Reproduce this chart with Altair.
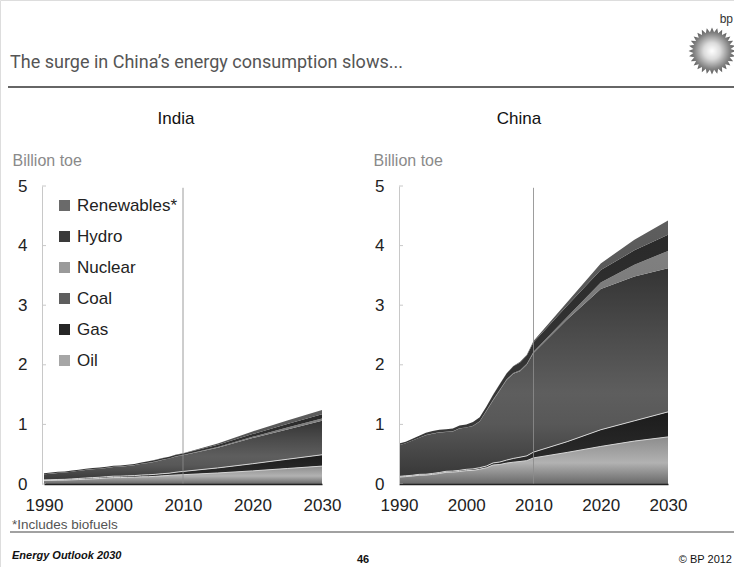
import math

import altair as alt
import pandas as pd

# ---------------------------------------------------------------------------
# Primary energy consumption by fuel, billion tonnes oil equivalent
# (annual history 1990-2010, outlook every five years to 2030)
# ---------------------------------------------------------------------------
YEARS = list(range(1990, 2011)) + [2015, 2020, 2025, 2030]
SOURCES = ["Oil", "Gas", "Coal", "Nuclear", "Hydro", "Renewables"]   # stacking order, bottom first
LEGEND_ORDER = ["Renewables", "Hydro", "Nuclear", "Coal", "Gas", "Oil"]
X_TICKS = [1990, 2000, 2010, 2020, 2030]
Y_TICKS = [0, 1, 2, 3, 4, 5]

india_oil = [0.058, 0.060, 0.063, 0.065, 0.070, 0.075, 0.081, 0.086, 0.092, 0.101, 0.107,
             0.108, 0.112, 0.114, 0.121, 0.122, 0.128, 0.137, 0.144, 0.152, 0.156,
             0.185, 0.220, 0.260, 0.300]
india_gas = [0.011, 0.012, 0.013, 0.013, 0.015, 0.018, 0.019, 0.021, 0.021, 0.022, 0.024,
             0.024, 0.025, 0.027, 0.029, 0.033, 0.034, 0.036, 0.037, 0.046, 0.055,
             0.085, 0.120, 0.155, 0.190]
india_coal = [0.095, 0.102, 0.110, 0.115, 0.121, 0.129, 0.136, 0.141, 0.141, 0.145, 0.154,
              0.158, 0.165, 0.174, 0.188, 0.199, 0.211, 0.228, 0.245, 0.263, 0.271,
              0.340, 0.430, 0.500, 0.570]
india_nuclear = [0.0014, 0.0012, 0.0016, 0.0013, 0.0013, 0.0018, 0.0020, 0.0023, 0.0026, 0.0030, 0.0038,
                 0.0044, 0.0044, 0.0042, 0.0038, 0.0040, 0.0040, 0.0040, 0.0034, 0.0038, 0.0052,
                 0.012, 0.022, 0.032, 0.040]
india_hydro = [0.016, 0.016, 0.016, 0.016, 0.019, 0.017, 0.016, 0.017, 0.019, 0.018, 0.017,
               0.017, 0.015, 0.016, 0.019, 0.023, 0.026, 0.028, 0.026, 0.024, 0.025,
               0.035, 0.045, 0.058, 0.070]
india_renewables = [0.0, 0.0, 0.0, 0.0, 0.0, 0.0001, 0.0002, 0.0003, 0.0004, 0.0005, 0.0005,
                    0.0006, 0.0007, 0.0008, 0.0011, 0.0016, 0.0025, 0.0031, 0.0038, 0.0044, 0.0053,
                    0.022, 0.045, 0.060, 0.070]

china_oil = [0.115, 0.124, 0.133, 0.147, 0.149, 0.161, 0.176, 0.196, 0.199, 0.210, 0.224,
             0.228, 0.248, 0.272, 0.319, 0.327, 0.351, 0.366, 0.377, 0.392, 0.438,
             0.530, 0.630, 0.720, 0.790]
china_gas = [0.013, 0.013, 0.014, 0.015, 0.015, 0.016, 0.016, 0.017, 0.018, 0.019, 0.022,
             0.025, 0.026, 0.030, 0.035, 0.042, 0.050, 0.063, 0.073, 0.080, 0.097,
             0.180, 0.280, 0.340, 0.420]
china_coal = [0.523, 0.545, 0.583, 0.614, 0.655, 0.667, 0.673, 0.660, 0.663, 0.702, 0.700,
              0.719, 0.774, 0.923, 1.053, 1.206, 1.344, 1.421, 1.442, 1.528, 1.665,
              2.050, 2.360, 2.420, 2.410]
china_nuclear = [0.0, 0.0, 0.0, 0.0, 0.003, 0.003, 0.003, 0.003, 0.003, 0.003, 0.004,
                 0.004, 0.006, 0.010, 0.011, 0.012, 0.012, 0.014, 0.016, 0.016, 0.017,
                 0.040, 0.110, 0.200, 0.290]
china_hydro = [0.029, 0.028, 0.030, 0.034, 0.038, 0.043, 0.042, 0.044, 0.047, 0.046, 0.050,
               0.063, 0.065, 0.064, 0.080, 0.090, 0.099, 0.110, 0.132, 0.139, 0.163,
               0.190, 0.210, 0.240, 0.270]
china_renewables = [0.0, 0.0, 0.0, 0.0, 0.0, 0.0, 0.0, 0.0, 0.0, 0.0, 0.0,
                    0.001, 0.001, 0.001, 0.002, 0.003, 0.004, 0.006, 0.010, 0.015, 0.020,
                    0.060, 0.110, 0.180, 0.240]

INDIA = {"Oil": india_oil, "Gas": india_gas, "Coal": india_coal,
         "Nuclear": india_nuclear, "Hydro": india_hydro, "Renewables": india_renewables}
CHINA = {"Oil": china_oil, "Gas": china_gas, "Coal": china_coal,
         "Nuclear": china_nuclear, "Hydro": china_hydro, "Renewables": china_renewables}

rows = []
for region, table in (("India", INDIA), ("China", CHINA)):
    for order, src in enumerate(SOURCES):
        for yr, v in zip(YEARS, table[src]):
            rows.append({"region": region, "source": src, "order": order, "year": yr, "value": v})
energy = pd.DataFrame(rows)

# ---------------------------------------------------------------------------
# Styling
# ---------------------------------------------------------------------------
FONT = "Liberation Sans"
TITLE_FONT = "Roboto"

FILL_STOPS = {
    "Oil": [("#8c8c8c", 0.0), ("#b2b2b2", 0.55), ("#686868", 1.0)],
    "Gas": [("#1c1c1c", 0.0), ("#303030", 1.0)],
    "Coal": [("#343434", 0.0), ("#4a4a4a", 0.3), ("#5e5e5e", 0.6), ("#585858", 0.75),
             ("#383838", 1.0)],
    "Nuclear": [("#808080", 0.0), ("#6c6c6c", 1.0)],
    "Hydro": [("#2a2a2a", 0.0), ("#3a3a3a", 1.0)],
    "Renewables": [("#5e5e5e", 0.0), ("#4a4a4a", 1.0)],
}
LEGEND_COLORS = ["#6a6a6a", "#3a3a3a", "#9a9a9a", "#5e5e5e", "#262626", "#a6a6a6"]


def vertical_gradient(stops):
    return alt.Gradient(
        gradient="linear", x1=0, x2=0, y1=0, y2=1,
        stops=[alt.GradientStop(color=c, offset=o) for c, o in stops],
    )


def panel(region, x_range, axis_x, with_legend):
    xs = alt.Scale(domain=[1990, 2030], range=x_range)
    ys = alt.Scale(domain=[0, 5], range=[484, 186])
    x_axis = alt.Axis(values=X_TICKS, format="d", title=None, orient="bottom", offset=-83,
                      domainColor="#222222", domainWidth=1.5, ticks=False, grid=False,
                      labelFont=FONT, labelFontSize=17, labelColor="#222222", labelPadding=13,
                      labelFlush=False, labelOverlap=False, zindex=1)
    y_axis = alt.Axis(values=Y_TICKS, format="d", title="Billion toe", orient="left", offset=-axis_x,
                      domainColor="#c8c8c8", domainWidth=1, ticks=False, grid=False,
                      labelFont=FONT, labelFontSize=17, labelColor="#222222", labelPadding=15,
                      titleAngle=0, titleAlign="left", titleBaseline="alphabetic",
                      titleX=-30 if region == "India" else -26, titleY=165,
                      titleFont=FONT, titleFontSize=16, titleFontWeight="normal",
                      titleColor="#8a8a8a", zindex=1)
    x_enc = alt.X("year:Q", scale=xs, axis=x_axis)

    base = (
        alt.Chart(energy)
        .transform_filter(alt.datum.region == region)
        .transform_stack(stack="value", groupby=["year"], as_=["y0", "y1"],
                         sort=[alt.SortField("order", order="ascending")])
    )

    layers = []
    for src in SOURCES:
        layers.append(
            base.transform_filter(alt.datum.source == src)
            .mark_area(fill=vertical_gradient(FILL_STOPS[src]), interpolate="linear")
            .encode(x=x_enc, y=alt.Y("y0:Q", scale=ys, axis=y_axis), y2="y1:Q")
        )

    # pale seams along the top of the oil and gas bands
    layers.append(
        base.transform_filter(alt.FieldOneOfPredicate(field="source", oneOf=["Oil", "Gas"]))
        .mark_line(color="#d4d4d4", strokeWidth=1)
        .encode(x=x_enc, y=alt.Y("y1:Q", scale=ys, axis=y_axis), detail="source:N")
    )

    # 2010 divider between history and outlook
    layers.append(
        alt.Chart(pd.DataFrame({"year": [2010]}))
        .mark_rule(color="#8c8c8c", strokeWidth=1, opacity=0.85)
        .encode(x=x_enc, y=alt.Y(datum=0, scale=ys, axis=y_axis), y2=alt.Y2(datum=4.97))
    )

    # short inward ticks on the value axis
    layers.append(
        alt.Chart(pd.DataFrame({"v": Y_TICKS}))
        .mark_rule(color="#c8c8c8", strokeWidth=1)
        .encode(y=alt.Y("v:Q", scale=ys, axis=y_axis),
                x=alt.value(axis_x), x2=alt.value(axis_x + 4))
    )

    if with_legend:
        layers.append(
            base.mark_square(opacity=0, size=1)
            .encode(
                x=x_enc,
                y=alt.Y("y1:Q", scale=ys, axis=y_axis),
                color=alt.Color(
                    "source:N",
                    scale=alt.Scale(domain=LEGEND_ORDER, range=LEGEND_COLORS),
                    legend=alt.Legend(
                        title=None, orient="none", legendX=56, legendY=197,
                        symbolType="square", symbolSize=121, symbolStrokeWidth=0,
                        symbolOpacity=1, labelFont=FONT, labelFontSize=17,
                        labelColor="#222222", labelOffset=4, rowPadding=13, padding=0,
                        labelExpr="datum.label == 'Renewables' ? 'Renewables*' : datum.label",
                    ),
                ),
            )
        )
    return alt.layer(*layers)


india = panel("India", [44, 322], 42, True)
china = panel("China", [399, 668], 399, False)

# ---------------------------------------------------------------------------
# Page furniture: headline, panel titles, rules, footnotes, logo
# ---------------------------------------------------------------------------
headline = ["The surge in China\u2019s energy consumption slows..."]
footnote = ["*Includes biofuels"]
footer_left = ["Energy Outlook 2030"]
footer_page = ["46"]
footer_right = ["\u00a9 BP 2012"]


def text_at(txt, x, y, **kw):
    return (
        alt.Chart(pd.DataFrame({"t": txt}))
        .mark_text(baseline="alphabetic", **kw)
        .encode(x=alt.value(x), y=alt.value(y), text="t:N")
    )


def hline(y, x0, x1, color, width):
    return (
        alt.Chart(pd.DataFrame({"k": [0]}))
        .mark_rule(color=color, strokeWidth=width)
        .encode(x=alt.value(x0), x2=alt.value(x1), y=alt.value(y))
    )


decor = [
    text_at(headline, 10, 68, align="left", font=TITLE_FONT, fontSize=18, color="#555555"),
    hline(87, 8, 734, "#333333", 1.5),
    text_at(["India"], 176, 124, align="center", font=FONT, fontSize=17, color="#111111"),
    text_at(["China"], 519, 124, align="center", font=FONT, fontSize=17, color="#111111"),
    text_at(footnote, 12, 529, align="left", font=FONT, fontSize=13.5, color="#555555"),
    hline(532, 10, 734, "#444444", 1.2),
    text_at(footer_left, 12, 559, align="left", font=FONT, fontSize=11, fontStyle="italic",
            fontWeight="bold", color="#111111"),
    text_at(footer_page, 363, 563, align="center", font=FONT, fontSize=11, fontWeight="bold",
            color="#111111"),
    text_at(footer_right, 732, 563, align="right", font=FONT, fontSize=11, color="#111111"),
]

# helios mark: a many-pointed burst with a pale centre
spikes = 28
pts = []
for k in range(spikes * 2):
    r = 1.0 if k % 2 == 0 else 0.80
    a = math.pi * k / spikes
    pts.append(f"{r * math.sin(a):.4f},{-r * math.cos(a):.4f}")
burst_path = "M" + "L".join(pts) + "Z"
burst_fill = alt.RadialGradient(
    gradient="radial", x1=0.5, y1=0.5, r1=0, x2=0.5, y2=0.5, r2=0.5,
    stops=[alt.GradientStop(color="#ffffff", offset=0.0),
           alt.GradientStop(color="#dcdcdc", offset=0.35),
           alt.GradientStop(color="#858585", offset=0.75),
           alt.GradientStop(color="#5a5a5a", offset=1.0)],
)
decor.append(
    alt.Chart(pd.DataFrame({"k": [0]}))
    .mark_point(shape=burst_path, filled=True, fill=burst_fill, strokeWidth=0, opacity=1, size=2200)
    .encode(x=alt.value(712), y=alt.value(51))
)
decor.append(text_at(["bp"], 733, 23, align="right", font=FONT, fontSize=12, color="#333333"))

chart = (
    alt.layer(india, china, *decor)
    .resolve_scale(x="independent", y="independent")
    .properties(width=734, height=567, padding=0, autosize=alt.AutoSizeParams(type="none"))
    .configure_view(strokeWidth=0)
    .configure(background="white")
)

chart.save("out.html", embed_options={"renderer": "svg", "actions": False})
